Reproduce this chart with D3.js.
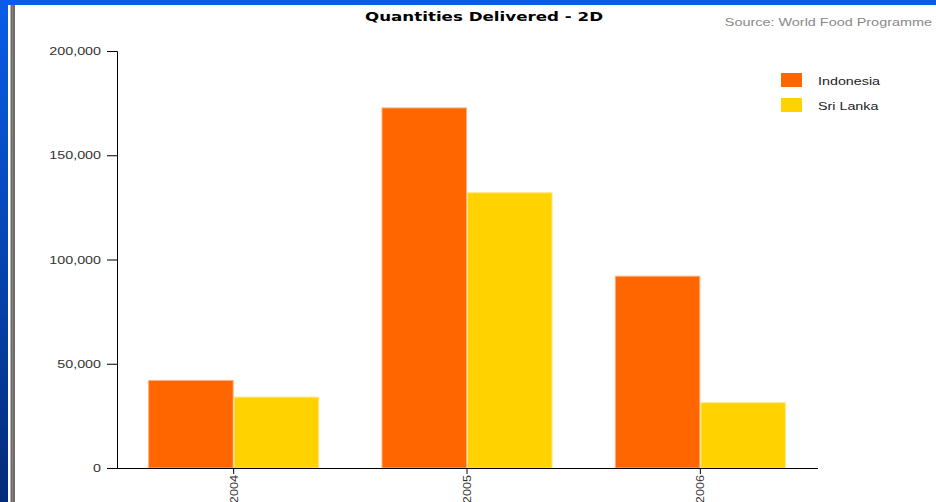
<!DOCTYPE html>
<html><head><meta charset="utf-8">
<script src="https://cdn.jsdelivr.net/npm/d3@7"></script>
<style>html,body{margin:0;padding:0;background:#fff;}svg{display:block;font-family:"Liberation Sans",Arial,sans-serif;}</style>
</head><body>
<svg id="c" width="936" height="502"></svg>
<script>
const years = ["2004", "2005", "2006"];
const seriesNames = ["Indonesia", "Sri Lanka"];
const indonesia = [42000, 172700, 92000];
const sriLanka = [34000, 132000, 31300];
const yTicks = [0, 50000, 100000, 150000, 200000];
const colors = ["#FF6600", "#FFD200"];

const svg = d3.select("#c");
// horizontal stretch helper (reference text is wider than the installed fonts)
function stretch(sel, f) {
  sel.each(function () {
    const len = this.getComputedTextLength();
    d3.select(this).attr("textLength", len * f).attr("lengthAdjust", "spacingAndGlyphs");
  });
}
// slide background
const defs = svg.append("defs");
const g1 = defs.append("linearGradient").attr("id","lb").attr("x1",0).attr("y1",0).attr("x2",0).attr("y2",1);
g1.append("stop").attr("offset","0").attr("stop-color","#0A5CE8");
g1.append("stop").attr("offset","0.6").attr("stop-color","#0640A8");
g1.append("stop").attr("offset","1").attr("stop-color","#022C78");
svg.append("rect").attr("x",0).attr("y",0).attr("width",936).attr("height",5).attr("fill","#0A5CE6");
svg.append("rect").attr("x",0).attr("y",0).attr("width",8).attr("height",502).attr("fill","url(#lb)");
svg.append("rect").attr("x",10.5).attr("y",5).attr("width",4.5).attr("height",497).attr("fill","#6E6A66");
svg.append("rect").attr("x",12.3).attr("y",5).attr("width",0.8).attr("height",497).attr("fill","#8E8A86");

const x0 = d3.scaleBand().domain(years).range([117, 817]).paddingInner(0.267).paddingOuter(0.1335);
const x1 = d3.scaleBand().domain(seriesNames).range([0, x0.bandwidth()]);
const y = d3.scaleLinear().domain([0, 200000]).range([468, 51]);

const data = years.map((yr, i) => ({year: yr, values: [indonesia[i], sriLanka[i]]}));

// bars
const grp = svg.append("g").selectAll("g").data(data).join("g")
  .attr("transform", d => `translate(${x0(d.year)},0)`);
grp.selectAll("rect").data(d => d.values.map((v, k) => ({name: seriesNames[k], v, k})))
  .join("rect")
  .attr("x", d => x1(d.name) + 0.5)
  .attr("y", d => y(d.v))
  .attr("width", x1.bandwidth() - 1)
  .attr("height", d => y(0) - y(d.v))
  .attr("fill", d => colors[d.k])
  .attr("stroke", d => d.k === 0 ? "#FFB080" : "#FFE680")
  .attr("stroke-width", 1);

// y axis
const yAxis = d3.axisLeft(y).tickValues(yTicks).tickSize(10).tickPadding(6).tickFormat(d3.format(","));
const ya = svg.append("g").attr("transform", "translate(117,0)").call(yAxis);
ya.select(".domain").attr("stroke", "#000").attr("d", "M-10,51.5H0.5V468.5");
ya.selectAll(".tick line").attr("stroke", "#000");
ya.selectAll(".tick text").attr("fill", "#333").style("font-size", "11px").style("font-family", "'Liberation Sans',Arial,sans-serif");
stretch(ya.selectAll(".tick text"), 1.3);

// x axis
const xAxis = d3.axisBottom(x0).tickSize(6).tickPadding(3);
const xa = svg.append("g").attr("transform", "translate(0,468)").call(xAxis);
xa.select(".domain").attr("stroke", "#000").attr("d", "M117,0.5H818");
xa.selectAll(".tick line").attr("stroke", "#000");
xa.selectAll(".tick text").attr("fill", "#333").style("font-size", "11px")
  .style("font-family", "'Liberation Sans',Arial,sans-serif")
  .attr("transform", "rotate(-90)").attr("text-anchor", "end")
  .attr("x", -7).attr("y", 0).attr("dy", "0.35em");
stretch(xa.selectAll(".tick text"), 1.15);

// title
const title = svg.append("text").attr("x", 484).attr("y", 21).attr("text-anchor", "middle")
  .style("font-size", "12.5px").style("font-weight", "bold").attr("fill", "#000")
  .style("font-family", "'DejaVu Sans',Verdana,sans-serif")
  .text("Quantities Delivered - 2D");
title.attr("textLength", 238).attr("lengthAdjust", "spacingAndGlyphs");
const src = svg.append("text").attr("x", 932).attr("y", 26).attr("text-anchor", "end")
  .style("font-size", "11px").attr("fill", "#888").text("Source: World Food Programme");
stretch(src, 1.31);

// legend
const lg = svg.append("g").selectAll("g").data(seriesNames).join("g")
  .attr("transform", (d, i) => `translate(781,${73 + i * 25})`);
lg.append("rect").attr("width", 21).attr("height", 14).attr("fill", (d, i) => colors[i]);
const lt = lg.append("text").attr("x", 37).attr("y", 12).style("font-size", "11px").attr("fill", "#222").text(d => d);
stretch(lt, 1.3);
</script>
</body></html>
